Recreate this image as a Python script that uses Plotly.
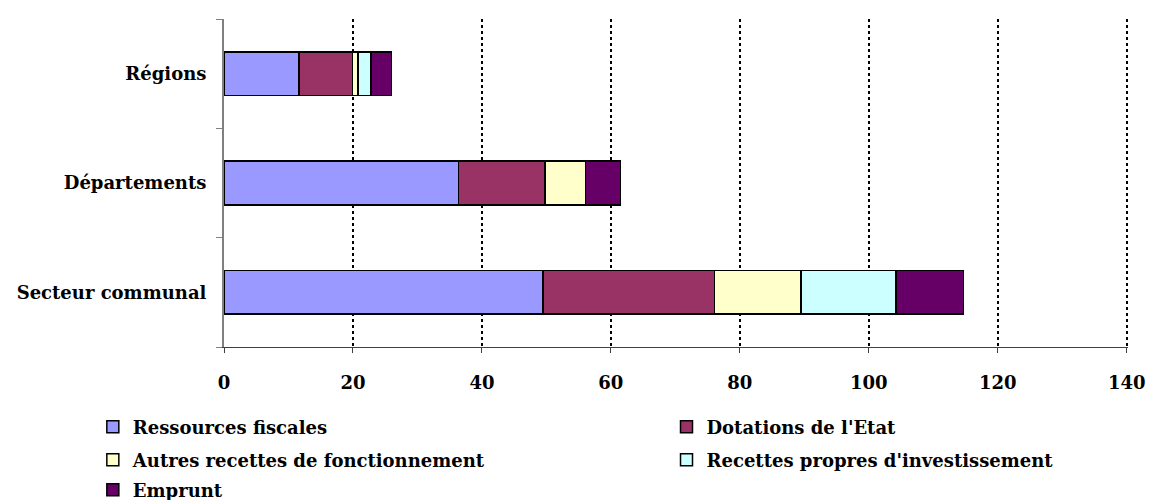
import plotly.graph_objects as go

# Collectivités (bottom to top on the category axis)
categories = ["Secteur communal", "Départements", "Régions"]

# Recettes par nature (milliards d'euros)
ressources_fiscales = [49.5, 36.4, 11.6]
dotations_etat = [26.6, 13.4, 8.3]
autres_recettes_fonct = [13.4, 6.3, 0.9]
recettes_propres_invest = [14.7, 0.0, 2.0]
emprunt = [10.5, 5.4, 3.2]

series_names = [
    "Ressources fiscales",
    "Dotations de l'Etat",
    "Autres recettes de fonctionnement",
    "Recettes propres d'investissement",
    "Emprunt",
]
series_values = [
    ressources_fiscales,
    dotations_etat,
    autres_recettes_fonct,
    recettes_propres_invest,
    emprunt,
]
series_colors = ["#9999FF", "#993366", "#FFFFCC", "#CCFFFF", "#660066"]

x_ticks = [0, 20, 40, 60, 80, 100, 120, 140]

FONT = dict(family="DejaVu Serif", size=18, color="#000000", weight="bold")

# Legend layout: two columns, three rows below the plot (paper coordinates)
legend_pos = [
    (-0.1451, -0.2439),
    (0.4895, -0.2439),
    (-0.1451, -0.3445),
    (0.4895, -0.3445),
    (-0.1451, -0.4360),
]
legend_ids = ["legend", "legend2", "legend3", "legend4", "legend5"]

fig = go.Figure()
for name, vals, col, lg in zip(series_names, series_values, series_colors, legend_ids):
    fig.add_trace(
        go.Bar(
            y=categories,
            x=vals,
            name=name,
            orientation="h",
            marker=dict(color=col, line=dict(color="#000000", width=1.5)),
            legend=lg,
            showlegend=True,
        )
    )

legend_layout = {}
for lg, (lx, ly) in zip(legend_ids, legend_pos):
    legend_layout[lg] = dict(
        orientation="h",
        xref="paper",
        yref="paper",
        xanchor="left",
        yanchor="middle",
        x=lx,
        y=ly,
        font=FONT,
        bgcolor="rgba(0,0,0,0)",
        visible=True,
    )

fig.update_layout(
    width=1149,
    height=500,
    barmode="stack",
    bargap=0.6,
    showlegend=True,
    plot_bgcolor="#FFFFFF",
    paper_bgcolor="#FFFFFF",
    margin=dict(l=224, r=21, t=19, b=153, autoexpand=False),
    font=FONT,
    **legend_layout,
    xaxis=dict(
        range=[0, 140.2],
        tickvals=x_ticks,
        ticktext=[str(v) for v in x_ticks],
        showgrid=True,
        gridcolor="#000000",
        gridwidth=2,
        griddash="dot",
        zeroline=False,
        showline=True,
        linecolor="#404040",
        linewidth=1,
        ticks="outside",
        ticklen=5,
        tickcolor="#404040",
        ticklabelstandoff=14,
        tickfont=FONT,
        fixedrange=True,
    ),
    yaxis=dict(
        categoryorder="array",
        categoryarray=categories,
        showgrid=False,
        zeroline=False,
        showline=True,
        linecolor="#808080",
        linewidth=2,
        ticks="outside",
        tickson="boundaries",
        ticklen=6,
        tickcolor="#808080",
        ticklabelstandoff=12,
        tickfont=FONT,
        fixedrange=True,
    ),
)

fig.write_html("out.html")
